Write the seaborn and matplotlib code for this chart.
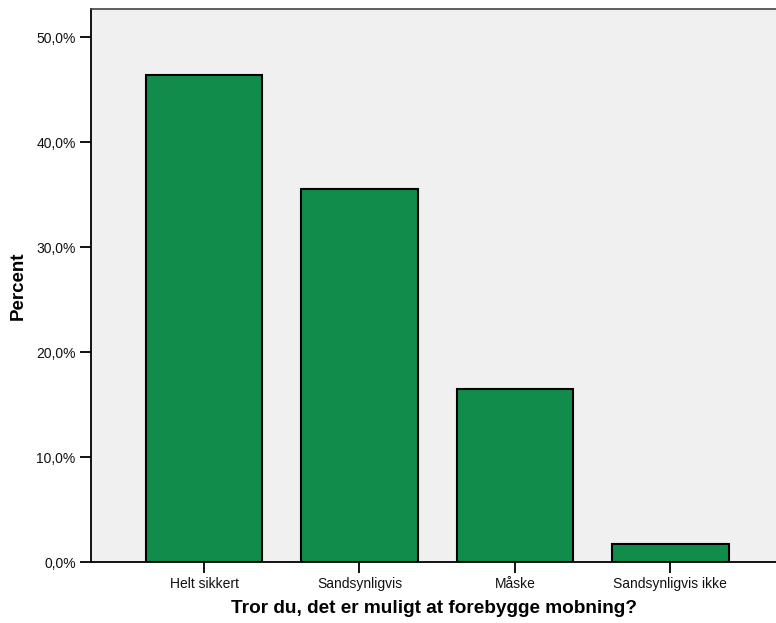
"""
Bar chart: Tror du, det er muligt at forebygge mobning?
Writes out.png (776x623).
"""

import pandas as pd
import matplotlib
matplotlib.use("Agg")
import matplotlib.pyplot as plt
from matplotlib.ticker import FuncFormatter
import seaborn as sns

CATEGORIES = ["Helt sikkert", "Sandsynligvis", "Måske", "Sandsynligvis ikke"]
PERCENTS = [46.4, 35.5, 16.5, 1.7]
Y_TICKS = [0, 10, 20, 30, 40, 50]

X_LABEL = "Tror du, det er muligt at forebygge mobning?"
Y_LABEL = "Percent"


def main():
    df = pd.DataFrame({"answer": CATEGORIES, "percent": PERCENTS})

    sns.set_style("white")
    plt.rcParams["font.family"] = ["Liberation Sans", "DejaVu Sans"]

    fig = plt.figure(figsize=(7.76, 6.23), dpi=100)
    ax = fig.add_axes([0.1173, 0.0979, 0.8827, 0.8877])
    ax.set_facecolor("#F0F0F0")

    sns.barplot(data=df, x="answer", y="percent", color="#128C4A",
                saturation=1, width=0.75, edgecolor="black", linewidth=1.5,
                ax=ax)

    ax.set_xlim(-0.727, 3.68)
    ax.set_ylim(0, 52.67)
    ax.set_yticks(Y_TICKS)
    ax.yaxis.set_major_formatter(
        FuncFormatter(lambda v, _: f"{v:.1f}%".replace(".", ",")))

    ax.tick_params(axis="both", direction="out", length=8, width=1.3,
                   color="black", labelsize=10, labelcolor="#111111", pad=3,
                   left=True, bottom=True)

    for side in ["left", "bottom"]:
        ax.spines[side].set_color("black")
        ax.spines[side].set_linewidth(1.3)
    ax.spines["top"].set_color("#444444")
    ax.spines["top"].set_linewidth(1.2)
    ax.spines["right"].set_visible(False)

    ax.set_xlabel(X_LABEL, fontsize=13.7, fontweight="bold", labelpad=6,
                  color="black")
    ax.set_ylabel(Y_LABEL, fontsize=13.5, fontweight="bold", labelpad=7,
                  color="black")

    fig.savefig("out.png", dpi=100)
    plt.close(fig)


if __name__ == "__main__":
    main()
